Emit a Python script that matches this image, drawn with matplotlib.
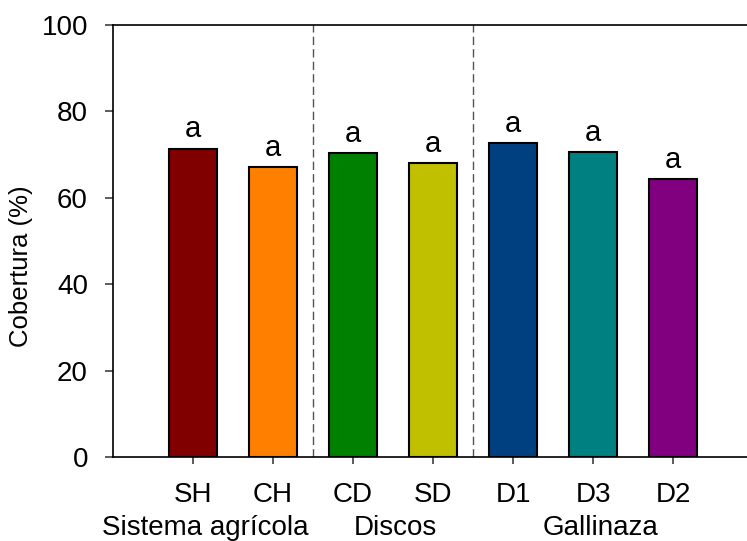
import numpy as np
import matplotlib
matplotlib.use("Agg")
import matplotlib.pyplot as plt

plt.rcParams['font.family'] = ['Liberation Sans', 'DejaVu Sans']

# datos
tratamientos = ['SH', 'CH', 'CD', 'SD', 'D1', 'D3', 'D2']
cobertura = [71.4, 67.1, 70.4, 68.1, 72.6, 70.6, 64.4]
letras = ['a', 'a', 'a', 'a', 'a', 'a', 'a']
colores = ['#800000', '#FF8000', '#008000', '#C0C000', '#004080', '#008080', '#800080']
grupos = ['Sistema agrícola', 'Discos', 'Gallinaza']
pos_grupos = [1.15, 3.53, 6.09]
separadores = [2.5, 4.5]

x = np.arange(1, len(tratamientos) + 1)

fig = plt.figure(figsize=(7.47, 5.41), dpi=100)
ax = fig.add_axes([113 / 747, 1 - 457 / 541, 1 - 113 / 747, (457 - 25) / 541])

ax.bar(x, cobertura, width=0.61, color=colores, edgecolor='black', linewidth=1.5, zorder=3)
for xi, yi, l in zip(x, cobertura, letras):
    ax.text(xi, yi + 1.2, l, ha='center', va='bottom', fontsize=21)

for s in separadores:
    ax.axvline(s, color='#505068', linestyle=(0, (6, 3)), linewidth=1, zorder=2)

ax.set_xlim(0, 7.925)
ax.set_ylim(0, 100)
ax.set_yticks([0, 20, 40, 60, 80, 100])
ax.set_xticks(x)
ax.set_xticklabels(tratamientos)
ax.tick_params(axis='y', direction='out', length=6, width=1.2, color='#404040', pad=12, labelsize=20)
ax.tick_params(axis='x', direction='out', length=5, width=1.2, color='#404040', pad=13, labelsize=20)

ax.spines['right'].set_visible(False)
for sp in ['left', 'top', 'bottom']:
    ax.spines[sp].set_linewidth(1.2)

# nombres de grupo debajo de las etiquetas
for g, p in zip(grupos, pos_grupos):
    ax.text(p, -18.0, g, ha='center', va='baseline', fontsize=20, clip_on=False)

fig.text(21 / 747, 1 - 266 / 541, 'Cobertura (%)', rotation=90, ha='center', va='center', fontsize=18.5)

fig.savefig('out.png', dpi=100)
